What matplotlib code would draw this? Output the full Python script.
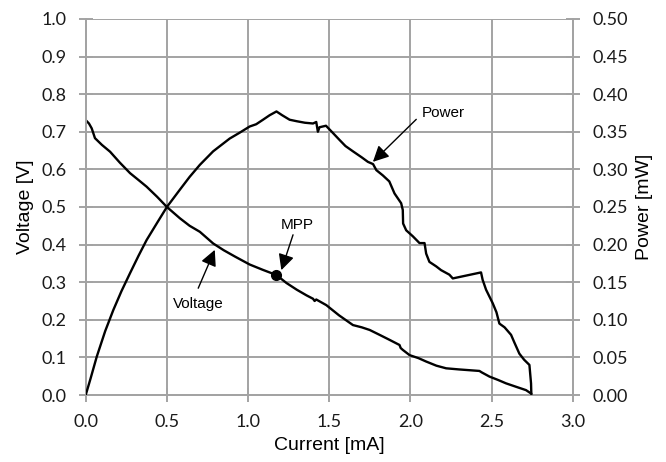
import matplotlib

matplotlib.use("Agg")
import matplotlib.pyplot as plt

# I-V curve: current [mA], voltage [V]
current_v = [0.0, 0.02, 0.037, 0.057, 0.10, 0.15, 0.21, 0.273, 0.33, 0.375, 0.44, 0.5,
             0.58, 0.64, 0.703, 0.785, 0.85, 0.92, 1.01, 1.09, 1.175, 1.236, 1.30, 1.36,
             1.40, 1.41, 1.42, 1.482, 1.56, 1.646, 1.70, 1.749, 1.81, 1.87, 1.933, 1.94,
             1.953, 1.995, 2.05, 2.097, 2.16, 2.22, 2.30, 2.425, 2.44, 2.487, 2.54, 2.589,
             2.65, 2.712, 2.743]
voltage = [0.731, 0.722, 0.709, 0.683, 0.665, 0.647, 0.618, 0.590, 0.570, 0.554, 0.527, 0.500,
           0.470, 0.450, 0.434, 0.403, 0.385, 0.368, 0.347, 0.333, 0.319, 0.298, 0.280, 0.265,
           0.256, 0.250, 0.254, 0.239, 0.212, 0.186, 0.180, 0.173, 0.160, 0.147, 0.133, 0.125,
           0.120, 0.106, 0.098, 0.089, 0.078, 0.071, 0.068, 0.064, 0.060, 0.049, 0.040, 0.031,
           0.022, 0.013, 0.004]

# P-I curve: current [mA], power [mW]
current_p = [0.0, 0.03, 0.068, 0.12, 0.17, 0.22, 0.273, 0.325, 0.375, 0.44, 0.5, 0.58,
             0.64, 0.703, 0.785, 0.887, 0.95, 1.01, 1.05, 1.092, 1.133, 1.175, 1.21, 1.256,
             1.30, 1.35, 1.40, 1.42, 1.43, 1.44, 1.48, 1.52, 1.564, 1.60, 1.646, 1.70,
             1.738, 1.77, 1.79, 1.83, 1.87, 1.902, 1.943, 1.953, 1.955, 1.974, 2.015, 2.056,
             2.087, 2.097, 2.117, 2.159, 2.189, 2.24, 2.261, 2.435, 2.445, 2.45, 2.466, 2.507,
             2.53, 2.548, 2.58, 2.62, 2.64, 2.671, 2.70, 2.733, 2.743, 2.745]
power = [0.0, 0.022, 0.051, 0.085, 0.113, 0.138, 0.162, 0.185, 0.206, 0.229, 0.250, 0.273,
         0.290, 0.306, 0.324, 0.341, 0.349, 0.357, 0.360, 0.366, 0.372, 0.377, 0.372, 0.366,
         0.364, 0.362, 0.361, 0.363, 0.350, 0.356, 0.358, 0.349, 0.339, 0.331, 0.324, 0.316,
         0.310, 0.307, 0.299, 0.292, 0.284, 0.268, 0.255, 0.246, 0.228, 0.219, 0.211, 0.202,
         0.202, 0.188, 0.177, 0.171, 0.166, 0.160, 0.155, 0.163, 0.153, 0.150, 0.140, 0.122,
         0.110, 0.095, 0.090, 0.080, 0.070, 0.055, 0.047, 0.040, 0.0155, 0.0]

mpp_current = 1.175
mpp_voltage = 0.319

x_ticks = [0.0, 0.5, 1.0, 1.5, 2.0, 2.5, 3.0]
v_ticks = [0.0, 0.1, 0.2, 0.3, 0.4, 0.5, 0.6, 0.7, 0.8, 0.9, 1.0]
p_ticks = [0.00, 0.05, 0.10, 0.15, 0.20, 0.25, 0.30, 0.35, 0.40, 0.45, 0.50]

GRID = "#a3a3a3"
LABEL_FONT = "Liberation Sans"
TICK_FONT = "Lato"

fig = plt.figure(figsize=(6.66, 4.62), dpi=100)
ax = fig.add_axes([0.1287, 0.145, 0.7313, 0.814])
ax2 = ax.twinx()

ax.set_axisbelow(True)
ax.grid(color=GRID, lw=1.4)
ax.set_xlim(0, 3.0)
ax.set_ylim(0, 1.0)
ax2.set_ylim(0, 0.5)
ax.set_xticks(x_ticks)
ax.set_yticks(v_ticks)
ax2.set_yticks(p_ticks)
ax.set_xticklabels([f"{t:.1f}" for t in x_ticks], family=TICK_FONT, fontsize=13)
ax.set_yticklabels([f"{t:.1f}" for t in v_ticks], family=TICK_FONT, fontsize=13)
ax2.set_yticklabels([f"{t:.2f}" for t in p_ticks], family=TICK_FONT, fontsize=13)

for a in (ax, ax2):
    for side in ("left", "right", "bottom"):
        a.spines[side].set_color(GRID)
        a.spines[side].set_linewidth(1.4)
    a.spines["top"].set_visible(False)
    a.tick_params(direction="inout", length=10, width=1.4, color=GRID, pad=9, labelcolor="#1a1a1a")

ax.plot(current_v, voltage, color="black", lw=1.7, zorder=3)
ax2.plot(current_p, power, color="black", lw=1.7, zorder=3)
ax2.plot([mpp_current], [mpp_voltage / 2], "o", color="black", ms=7, zorder=4)

ax.set_xlabel("Current [mA]", family=LABEL_FONT, fontsize=14, labelpad=5)
ax.set_ylabel("Voltage [V]", family=LABEL_FONT, fontsize=14, labelpad=5)
ax2.set_ylabel("Power [mW]", family=LABEL_FONT, fontsize=14, labelpad=6)

arrow = dict(arrowstyle="-|>", color="black", lw=1.0, mutation_scale=24, shrinkA=0, shrinkB=0)
ax2.annotate("", xy=(1.769, 0.31), xytext=(2.036, 0.3665), arrowprops=arrow, zorder=5)
ax2.annotate("", xy=(1.205, 0.166), xytext=(1.277, 0.213), arrowprops=arrow, zorder=5)
ax2.annotate("", xy=(0.795, 0.193), xytext=(0.693, 0.142), arrowprops=arrow, zorder=5)
ax2.text(2.07, 0.375, "Power", family=LABEL_FONT, fontsize=11, ha="left", va="center")
ax2.text(1.30, 0.226, "MPP", family=LABEL_FONT, fontsize=11, ha="center", va="center")
ax2.text(0.695, 0.121, "Voltage", family=LABEL_FONT, fontsize=11, ha="center", va="center")

fig.savefig("out.png", dpi=100)
